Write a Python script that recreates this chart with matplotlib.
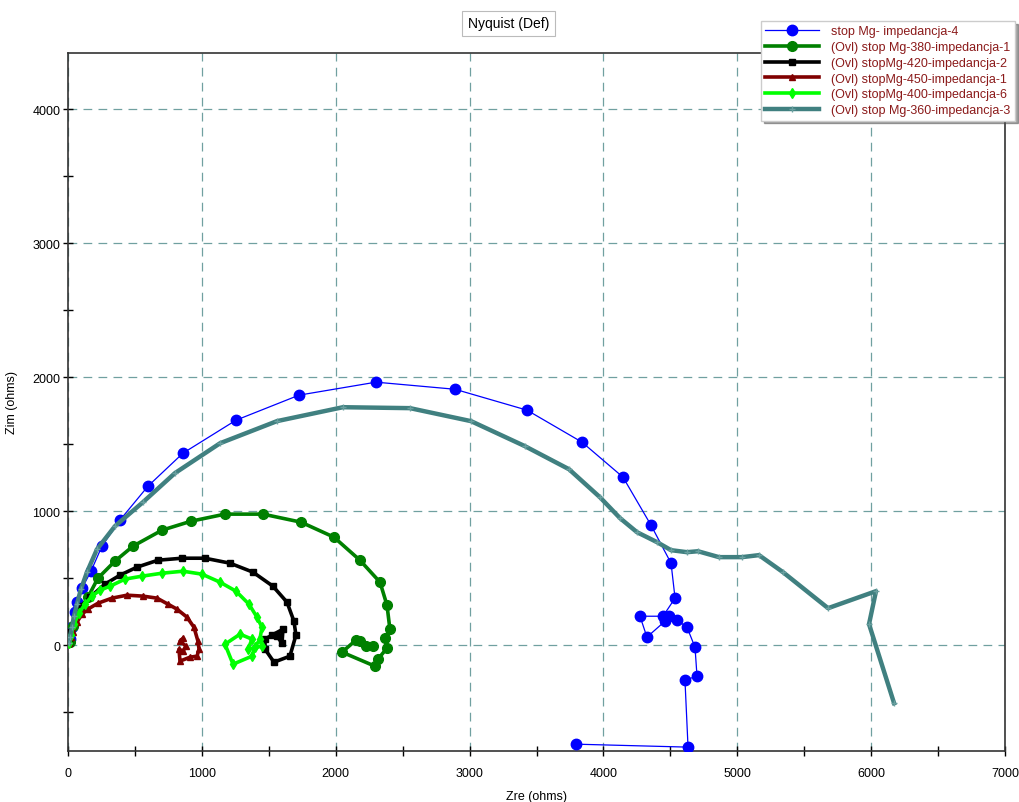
import numpy as np
import matplotlib
matplotlib.use('Agg')
import matplotlib.pyplot as plt
from matplotlib.ticker import MultipleLocator

plt.rcParams['font.family'] = ['Liberation Sans', 'DejaVu Sans']

# data (Zre, Zim in ohms)
blue_x = [15, 30, 52, 67, 105, 172, 254, 388, 598, 859, 1255, 1726, 2301, 2891, 3429,
          3840, 4146, 4355, 4505, 4535, 4445, 4273, 4325, 4460, 4490, 4550, 4624, 4684,
          4699, 4609, 4632, 3795]
blue_y = [45, 134, 246, 321, 425, 552, 739, 933, 1187, 1433, 1679, 1866, 1963, 1910, 1754,
          1515, 1254, 896, 612, 351, 216, 216, 60, 179, 216, 187, 134, -15,
          -231, -261, -761, -739]

green_x = [15, 37, 82, 149, 224, 351, 486, 702, 919, 1173, 1457, 1741, 1987, 2181, 2331,
           2383, 2405, 2368, 2383, 2316, 2293, 2047, 2151, 2181, 2226, 2278]
green_y = [22, 142, 254, 358, 500, 627, 739, 858, 925, 978, 978, 918, 806, 634, 470,
           299, 119, 52, -22, -104, -157, -52, 37, 30, -7, -7]

black_x = [7, 22, 52, 97, 164, 276, 388, 515, 672, 852, 1023, 1210, 1382, 1531, 1636,
           1688, 1703, 1658, 1539, 1472, 1472, 1524, 1606, 1599, 1561]
black_y = [15, 97, 201, 291, 358, 455, 522, 582, 634, 649, 649, 612, 545, 440, 321,
           179, 75, -82, -127, -30, 45, 75, 119, 15, 67]

red_x = [7, 22, 37, 67, 105, 149, 224, 329, 441, 560, 665, 747, 814, 889, 941, 971,
         979, 964, 911, 837, 829, 859, 881, 837, 859]
red_y = [15, 60, 97, 172, 231, 269, 313, 351, 373, 366, 351, 306, 269, 209, 134, 30,
         -30, -82, -90, -119, -30, -45, -7, 30, 52]

lime_x = [7, 22, 45, 82, 127, 179, 239, 314, 426, 553, 702, 859, 1001, 1136, 1255, 1352,
          1412, 1449, 1434, 1397, 1375, 1233, 1173, 1285, 1375, 1345, 1449]
lime_y = [15, 75, 157, 239, 306, 366, 410, 440, 493, 515, 537, 552, 530, 470, 403, 306,
          209, 134, 45, -15, -82, -142, 7, 82, 45, -30, -7]

teal_x = [7, 15, 30, 45, 67, 97, 142, 217, 351, 560, 799, 1136, 1561, 2054, 2555, 3011,
          3414, 3743, 3974, 4124, 4251, 4400, 4505, 4624, 4706, 4863, 5035, 5162, 5341,
          5678, 6036, 5984, 6171]
teal_y = [15, 60, 134, 216, 306, 418, 545, 716, 888, 1067, 1284, 1507, 1672, 1776, 1769, 1672,
          1485, 1313, 1104, 948, 843, 769, 709, 694, 701, 657, 657, 672, 545,
          276, 403, 157, -433]

labels = ['stop Mg- impedancja-4',
          '(Ovl) stop Mg-380-impedancja-1',
          '(Ovl) stopMg-420-impedancja-2',
          '(Ovl) stopMg-450-impedancja-1',
          '(Ovl) stopMg-400-impedancja-6',
          '(Ovl) stop Mg-360-impedancja-3']

fig = plt.figure(figsize=(10.19, 8.03), dpi=100)
ax = fig.add_axes([0.0667, 0.0635, 0.9196, 0.8693])

ax.plot(blue_x, blue_y, color='#0000ff', lw=0.9, marker='o', ms=7.5, label=labels[0], zorder=3)
ax.plot(green_x, green_y, color='#008000', lw=2.6, marker='o', ms=7, label=labels[1], zorder=3)
ax.plot(black_x, black_y, color='black', lw=2.6, marker='s', ms=4.5, label=labels[2], zorder=3)
ax.plot(red_x, red_y, color='#800000', lw=2.6, marker='^', ms=5, label=labels[3], zorder=3)
ax.plot(lime_x, lime_y, color='#00ff00', lw=2.6, marker='d', ms=5, label=labels[4], zorder=3)
ax.plot(teal_x, teal_y, color='#408080', lw=3.2, marker='+', ms=5, mew=1,
        mec='#6aa0a0', label=labels[5], zorder=3)

ax.set_xlim(0, 7000)
ax.set_ylim(-790, 4420)
ax.xaxis.set_major_locator(MultipleLocator(1000))
ax.xaxis.set_minor_locator(MultipleLocator(500))
ax.yaxis.set_major_locator(MultipleLocator(1000))
ax.yaxis.set_minor_locator(MultipleLocator(500))
ax.tick_params(which='both', direction='inout', length=7, width=1, labelsize=9)
ax.tick_params(axis='x', pad=8)
ax.tick_params(axis='y', pad=2)
ax.grid(True, which='major', color='#408080', alpha=0.75, lw=0.9, linestyle=(0, (7, 5)))
ax.set_axisbelow(True)
for s in ax.spines.values():
    s.set_linewidth(1.2)
    s.set_color('#333333')

ax.set_xlabel('Zre (ohms)', fontsize=9, labelpad=8)
ax.set_ylabel('Zim (ohms)', fontsize=9, labelpad=10)

fig.text(0.499, 0.970, 'Nyquist (Def)', ha='center', va='center', fontsize=10,
         bbox=dict(boxstyle='square,pad=0.4', fc='white', ec='#bbbbbb', lw=0.8))

leg = ax.legend(loc='upper right', bbox_to_anchor=(1015 / 1019, 1 - 22 / 803),
                bbox_transform=fig.transFigure, fontsize=9, handlelength=4.3,
                labelspacing=0.3, borderpad=0.35, handletextpad=1.0, fancybox=False,
                shadow=True, framealpha=1, edgecolor='#cccccc', borderaxespad=0)
for t in leg.get_texts():
    t.set_color('#8b1a1a')

fig.savefig('out.png', dpi=100)
